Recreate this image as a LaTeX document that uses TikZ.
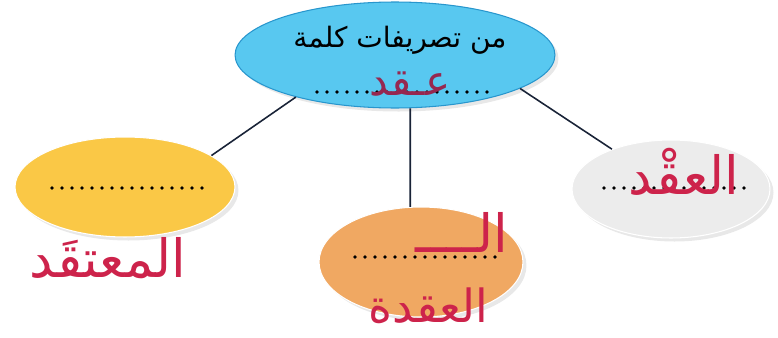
\documentclass[tikz,border=0pt]{standalone}
\usepackage{fontspec}
\usetikzlibrary{shapes.geometric,shadows}
\TeXXeTstate=1
\newfontfamily\arabicfont[Script=Arabic]{DejaVu Sans}
\definecolor{SkyBlue}{RGB}{88,200,240}
\definecolor{SkyEdge}{RGB}{40,150,205}
\definecolor{SunYellow}{RGB}{250,200,70}
\definecolor{PeachOrange}{RGB}{240,168,98}
\definecolor{PaleGray}{RGB}{236,236,236}
\definecolor{InkRed}{RGB}{205,35,75}
\definecolor{InkPlum}{RGB}{150,40,80}
\definecolor{LineNavy}{RGB}{25,35,55}

\begin{document}
\begin{tikzpicture}[
    x=0.02cm, y=-0.02cm,
    bubble/.style={ellipse, draw=white, line width=0.6pt, inner sep=0pt,
      drop shadow={opacity=0.18, shadow xshift=2pt, shadow yshift=-2pt}},
    link/.style={draw=LineNavy, line width=0.9pt},
    dotrow/.style={line width=2.2pt, line cap=round, dash pattern=on 0pt off 0.2cm},
    hand/.style={font=\arabicfont\fontsize{30}{32}\selectfont, text=InkRed}
  ]
    \useasboundingbox (0,0) rectangle (778,338);

    % the four bubbles
    \node[bubble, fill=SkyBlue, draw=SkyEdge, minimum width=6.4cm, minimum height=2.12cm] (word) at (395,55) {};
    \node[bubble, fill=SunYellow, minimum width=4.4cm, minimum height=2.0cm] (left) at (125,187) {};
    \node[bubble, fill=PeachOrange, minimum width=4.08cm, minimum height=2.2cm] (mid) at (421,262) {};
    \node[bubble, fill=PaleGray, minimum width=3.96cm, minimum height=1.96cm] (right) at (671,189) {};

    \draw[link] (word.203) -- (left.20);
    \draw[link] (word.286) -- (mid.101);
    \draw[link] (word.345) -- (right.146);

    % dotted answer lines
    \draw[dotrow] (317,92) -- (490,92);
    \draw[dotrow] (52,188) -- (202,188);
    \draw[dotrow] (355,257) -- (500,257);
    \draw[dotrow] (604,188) -- (744,188);

    % texts
    \node[font=\arabicfont\fontsize{16}{18}\selectfont] (title) at (400,40) {\beginR من تصريفات كلمة\endR};
    \node[hand, text=InkPlum, font=\arabicfont\fontsize{24}{26}\selectfont] (root) at (410,84) {\beginR عـقد\endR};

    \node[hand] (lword) at (108,258) {\beginR المعتقَد\endR};

    \node[hand] (mpart) at (462,232) {\beginR الــــ\endR};
    \node[hand, font=\arabicfont\fontsize{26}{28}\selectfont] (mword) at (428,306) {\beginR العقدة\endR};

    \node[hand] (rword) at (684,172) {\beginR العقْد\endR};
\end{tikzpicture}
\end{document}
